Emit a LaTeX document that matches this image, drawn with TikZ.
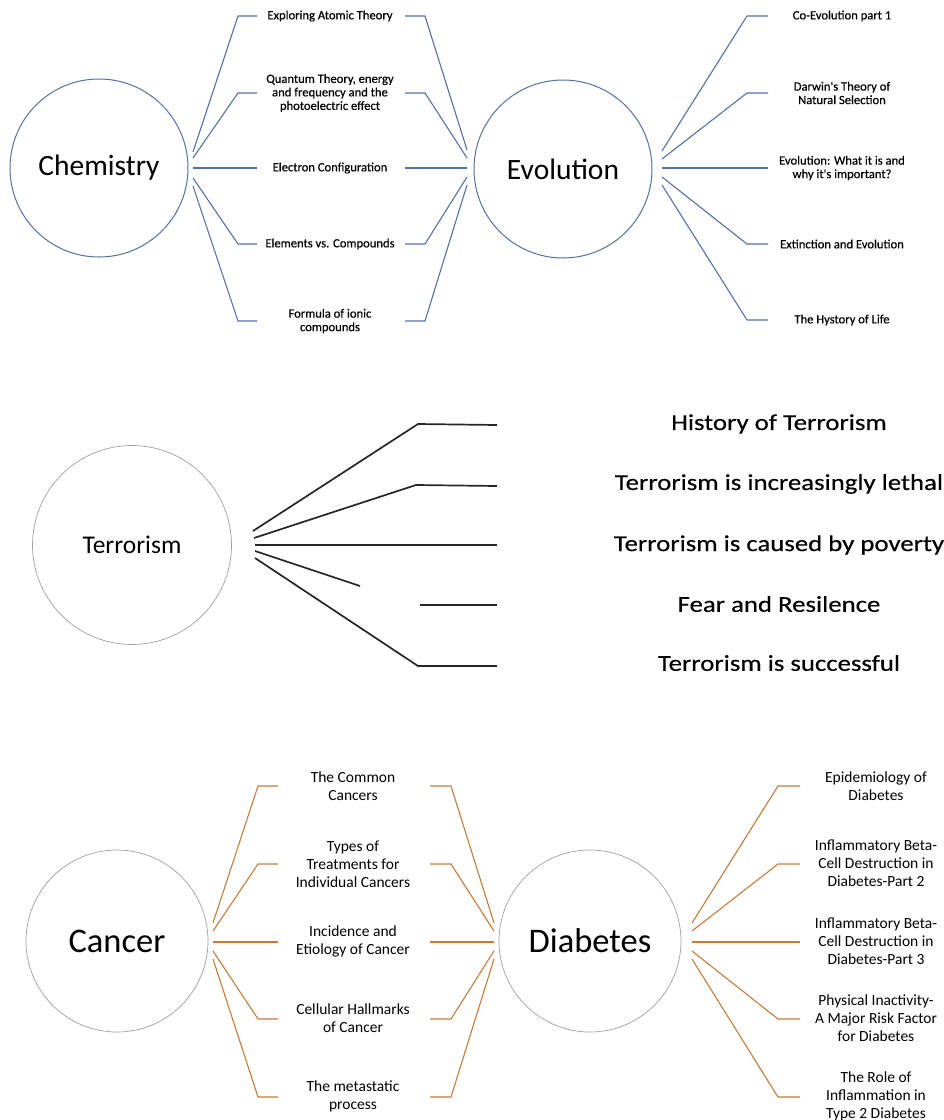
\documentclass[tikz,border=0pt]{standalone}
\usepackage{fontspec}
\setmainfont{Carlito}
\newfontfamily\widefont[FakeStretch=1.18,FakeBold=0.4]{Carlito}
\newfontfamily\smallfont[FakeBold=0.6]{Carlito}
\definecolor{blueline}{HTML}{5470A6}
\definecolor{orangeline}{HTML}{C77B3B}
\begin{document}
\begin{tikzpicture}[x=1pt,y=-1pt,
  bluehub/.style={circle, draw=blueline, line width=1pt, inner sep=0pt, minimum size=178pt, font=\fontsize{29.5}{34}\selectfont},
  grayhub/.style={circle, draw=gray!75, line width=0.7pt, inner sep=0pt},
  smalllbl/.style={font=\smallfont\fontsize{12.6}{13.5}\selectfont, align=center, inner sep=0pt},
  cdlbl/.style={font=\fontsize{15.5}{18}\selectfont, align=center, inner sep=0pt},
  terrlbl/.style={font=\widefont\fontsize{22.7}{26}\selectfont, inner sep=0pt},
  bline/.style={draw=blueline, line width=1.1pt},
  oline/.style={draw=orangeline, line width=1.1pt},
  tline/.style={draw=black!85, line width=1.7pt}]
\useasboundingbox (0,0) rectangle (944,1120);

% ---------- Chemistry / Evolution ----------
\node[bluehub] (chem) at (99,168) {Chemistry};
\node[bluehub] (evo) at (563,169) {Evolution};

\node[smalllbl] (c1) at (330,16) {Exploring Atomic Theory};
\node[smalllbl] (c2) at (330,93) {Quantum Theory, energy\\and frequency and the\\photoelectric effect};
\node[smalllbl] (c3) at (330,168) {Electron Configuration};
\node[smalllbl] (c4) at (330,244) {Elements vs. Compounds};
\node[smalllbl] (c5) at (330,321) {Formula of ionic\\compounds};

\node[smalllbl] (e1) at (842,16) {Co-Evolution part 1};
\node[smalllbl] (e2) at (842,93) {Darwin's Theory of\\Natural Selection};
\node[smalllbl] (e3) at (842,168) {Evolution: What it is and\\why it's important?};
\node[smalllbl] (e4) at (842,244) {Extinction and Evolution};
\node[smalllbl] (e5) at (842,320) {The Hystory of Life};

\foreach \i/\y/\ca/\cb in {1/16/152/150, 2/93/158/158, 3/168/168/168, 4/244/178/177, 5/321/186/185}{
  \coordinate (chemL\i) at (193,\ca);
  \coordinate (chemB\i) at (238,\y);
  \coordinate (chemS\i) at (257,\y);
  \coordinate (evoS\i) at (405,\y);
  \coordinate (evoB\i) at (425,\y);
  \coordinate (evoL\i) at (467,\cb);
}
\foreach \i in {1,2,4,5}{
  \draw[bline] (chemL\i) -- (chemB\i) -- (chemS\i);
  \draw[bline] (evoS\i) -- (evoB\i) -- (evoL\i);
}
\draw[bline] (chemL3) -- (chemS3);
\draw[bline] (evoS3) -- (evoL3);

\foreach \i/\y/\ca in {1/16/151, 2/93/159, 3/168/168, 4/244/177, 5/320/185}{
  \coordinate (evoR\i) at (662,\ca);
  \coordinate (evoRB\i) at (747,\y);
  \coordinate (evoRS\i) at (768,\y);
}
\foreach \i in {1,2,4,5}{
  \draw[bline] (evoR\i) -- (evoRB\i) -- (evoRS\i);
}
\draw[bline] (evoR3) -- (evoRS3);

% ---------- Terrorism ----------
\node[grayhub, minimum size=199pt, font=\fontsize{25.5}{30}\selectfont] (terr) at (132,545) {Terrorism};

\node[terrlbl] (t1) at (779,424) {History of Terrorism};
\node[terrlbl] (t2) at (779,484) {Terrorism is increasingly lethal};
\node[terrlbl] (t3) at (779,545) {Terrorism is caused by poverty};
\node[terrlbl] (t4) at (779,604) {Fear and Resilence};
\node[terrlbl] (t5) at (779,663) {Terrorism is successful};

\coordinate (ts1) at (253,531);
\coordinate (tb1) at (418,424);
\coordinate (te1) at (497,425);
\coordinate (ts2) at (254,538);
\coordinate (tb2) at (416,485);
\coordinate (te2) at (497,486);
\coordinate (ts3) at (255,545);
\coordinate (te3) at (497,545);
\coordinate (ts4) at (255,551);
\coordinate (tb4) at (360,586);
\coordinate (tf4) at (420,605);
\coordinate (te4) at (497,605);
\coordinate (ts5) at (255,558);
\coordinate (tb5) at (418,666);
\coordinate (te5) at (497,666);

\draw[tline] (ts1) -- (tb1) -- (te1);
\draw[tline] (ts2) -- (tb2) -- (te2);
\draw[tline] (ts3) -- (te3);
\draw[tline] (ts4) -- (tb4);
\draw[tline] (tf4) -- (te4);
\draw[tline] (ts5) -- (tb5) -- (te5);

% ---------- Cancer / Diabetes ----------
\node[grayhub, minimum size=182pt, font=\fontsize{34.5}{40}\selectfont] (canc) at (117,941) {Cancer};
\node[grayhub, minimum size=182pt, font=\fontsize{34.5}{40}\selectfont] (diab) at (590,941) {Diabetes};

\node[cdlbl] (k1) at (353,786) {The Common\\Cancers};
\node[cdlbl] (k2) at (353,864) {Types of\\Treatments for\\Individual Cancers};
\node[cdlbl] (k3) at (353,941) {Incidence and\\Etiology of Cancer};
\node[cdlbl] (k4) at (353,1018) {Cellular Hallmarks\\of Cancer};
\node[cdlbl] (k5) at (353,1096) {The metastatic\\process};

\node[cdlbl] (d1) at (876,786) {Epidemiology of\\Diabetes};
\node[cdlbl] (d2) at (876,863) {Inflammatory Beta-\\Cell Destruction in\\Diabetes-Part 2};
\node[cdlbl] (d3) at (876,941) {Inflammatory Beta-\\Cell Destruction in\\Diabetes-Part 3};
\node[cdlbl] (d4) at (876,1018) {Physical Inactivity-\\A Major Risk Factor\\for Diabetes};
\node[cdlbl] (d5) at (876,1096) {The Role of\\Inflammation in\\Type 2 Diabetes};

\foreach \i/\y/\ca in {1/786/923, 2/864/931, 3/942/942, 4/1019/951, 5/1097/959}{
  \coordinate (cL\i) at (213,\ca);
  \coordinate (cB\i) at (258,\y);
  \coordinate (cS\i) at (278,\y);
  \coordinate (dS\i) at (430,\y);
  \coordinate (dB\i) at (451,\y);
  \coordinate (dL\i) at (494,\ca);
  \coordinate (dR\i) at (692,\ca);
  \coordinate (dRB\i) at (778,\y);
  \coordinate (dRS\i) at (800,\y);
}
\foreach \i in {1,2,4,5}{
  \draw[oline] (cL\i) -- (cB\i) -- (cS\i);
  \draw[oline] (dS\i) -- (dB\i) -- (dL\i);
  \draw[oline] (dR\i) -- (dRB\i) -- (dRS\i);
}
\draw[oline] (cL3) -- (cS3);
\draw[oline] (dS3) -- (dL3);
\draw[oline] (dR3) -- (dRS3);
\end{tikzpicture}
\end{document}
